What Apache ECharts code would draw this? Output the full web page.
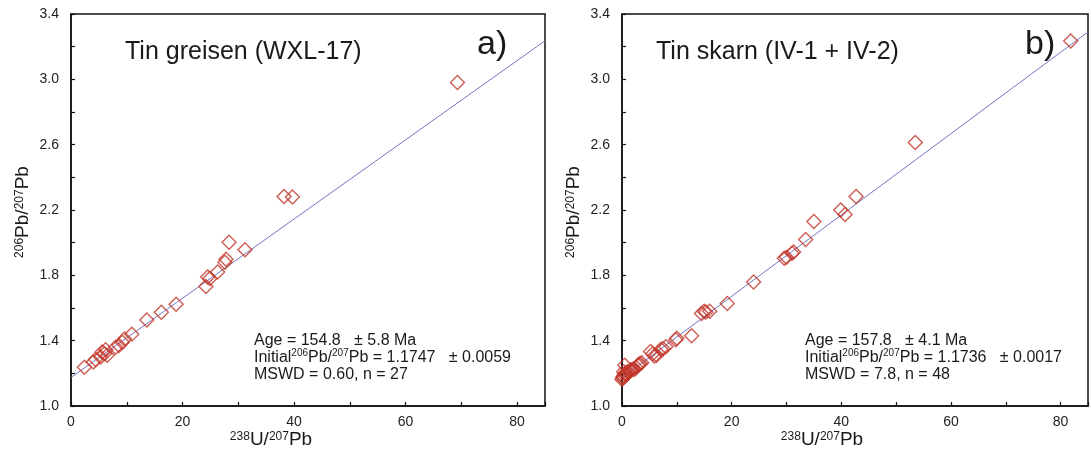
<!DOCTYPE html>
<html>
<head>
<meta charset="utf-8">
<script src="https://cdn.jsdelivr.net/npm/echarts@6/dist/echarts.min.js"></script>
<style>
  html, body { margin: 0; padding: 0; background: #fff; }
  #chart { width: 1091px; height: 451px; }
</style>
</head>
<body>
<div id="chart"></div>
<script>
"use strict";

// a) tin greisen WXL-17, 238U/207Pb vs 206Pb/207Pb
const greisenU = [2.4, 4.0, 4.4, 5.3, 5.6, 6.0, 6.2, 6.5, 8.0, 8.6, 9.2, 9.6, 10.9,
  13.6, 16.2, 18.85, 24.2, 24.5, 24.9, 26.3, 27.6, 27.8, 28.35, 31.2, 38.2, 39.7, 69.3];
const greisenPb = [1.237, 1.27, 1.285, 1.30, 1.33, 1.32, 1.345, 1.31, 1.36, 1.37, 1.39, 1.41, 1.44,
  1.527, 1.574, 1.623, 1.731, 1.79, 1.78, 1.82, 1.88, 1.899, 2.003, 1.956, 2.282, 2.279, 2.981];
const greisenFitU = [0, 85];
const greisenFitPb = [1.1747, 3.236];

// b) tin skarn IV-1 + IV-2
const skarnU = [0.0, 0.1, 0.2, 0.3, 0.3, 0.4, 0.5, 0.6, 0.7, 0.8, 1.0, 1.2, 1.5, 1.7, 2.0, 2.3,
  2.6, 2.9, 3.1, 3.3, 3.6, 5.2, 5.6, 5.9, 6.3, 7.1, 7.5, 8.0, 9.8, 10.0, 12.7,
  14.5, 15.0, 15.3, 16.0, 19.2, 24.0, 29.6, 30.0, 31.0, 31.3, 33.5, 35.0, 39.9, 40.7, 42.7, 53.5, 81.85];
const skarnPb = [1.163, 1.17, 1.18, 1.175, 1.21, 1.19, 1.25, 1.2, 1.2, 1.19, 1.21, 1.205, 1.22, 1.22, 1.225, 1.225,
  1.235, 1.25, 1.255, 1.26, 1.265, 1.333, 1.32, 1.306, 1.31, 1.347, 1.35, 1.363, 1.405, 1.415, 1.43,
  1.567, 1.58, 1.575, 1.58, 1.628, 1.759, 1.904, 1.91, 1.935, 1.943, 2.02, 2.129, 2.2, 2.173, 2.282, 2.613, 3.235];
const skarnFitU = [0, 85];
const skarnFitPb = [1.1736, 3.29];

const panelTitles = ["Tin greisen (WXL-17)", "Tin skarn (IV-1 + IV-2)"];
const panelTags = ["a)", "b)"];
const statLines = [
  ["Age = 154.8   \u00b1 5.8 Ma", "Initial{s|206}Pb/{s|207}Pb = 1.1747   \u00b1 0.0059", "MSWD = 0.60, n = 27"],
  ["Age = 157.8   \u00b1 4.1 Ma", "Initial{s|206}Pb/{s|207}Pb = 1.1736   \u00b1 0.0017", "MSWD = 7.8, n = 48"],
];

const FONT = "'Liberation Sans', Arial, Helvetica, sans-serif";
const INK = "#1a1a1a";
const RED = "#c2362b";
const FIT = "#7373c2";

const pairs = (xs, ys) => xs.map((x, i) => [x, ys[i]]);

const chart = echarts.init(document.getElementById("chart"));

const grids = [
  { left: 71, top: 14, width: 474, height: 392 },
  { left: 622, top: 14, width: 474, height: 392 },
].map((g) => ({ ...g, show: true, borderColor: "#111", borderWidth: 1.5, backgroundColor: "transparent" }));

const axisCommon = {
  axisLine: { show: true, lineStyle: { color: "#111", width: 1.5 } },
  axisTick: { show: true, inside: true, length: 4, lineStyle: { color: "#111", width: 1.2 } },
  splitLine: { show: false },
};

const xAxes = [0, 1].map((i) => ({
  ...axisCommon,
  type: "value", gridIndex: i, min: 0, max: 85, interval: 10,
  axisLabel: {
    color: "#222", fontSize: 14, fontFamily: FONT, margin: 9,
    formatter: (v) => (v % 20 === 0 ? String(v) : ""),
  },
}));

const yAxes = [0, 1].map((i) => ({
  ...axisCommon,
  type: "value", gridIndex: i, min: 1, max: 3.4, interval: 0.2,
  axisLabel: {
    color: "#222", fontSize: 14, fontFamily: FONT, margin: 12,
    formatter: (v) => (Math.round(v * 10) % 4 === 2 ? v.toFixed(1) : ""),
  },
}));

const scatter = (data, i) => ({
  type: "scatter", xAxisIndex: i, yAxisIndex: i, data,
  symbol: "diamond", symbolSize: [14, 14],
  itemStyle: { color: "transparent", borderColor: RED, borderWidth: 1.4 },
  z: 3,
});
const fit = (data, i) => ({
  type: "line", xAxisIndex: i, yAxisIndex: i, data,
  showSymbol: false, silent: true,
  lineStyle: { color: FIT, width: 1 },
  z: 2,
});

const sup = { fontSize: 10, verticalAlign: "top", lineHeight: 10, fontFamily: FONT, fill: INK };
const bigSup = { fontSize: 12, fontFamily: FONT, fill: INK };

function panelText(i) {
  const ox = grids[i].left;
  const els = [
    { type: "text", x: ox + (i === 0 ? 54 : 34), y: 52,
      style: { text: panelTitles[i], font: "25px " + FONT, fill: INK, verticalAlign: "middle" } },
    { type: "text", x: ox + (i === 0 ? 406 : 403), y: 45,
      style: { text: panelTags[i], font: "34px " + FONT, fill: INK, verticalAlign: "middle" } },
    // x axis title
    { type: "text", x: ox + 200, y: 440,
      style: {
        text: "{s|238}U/{s|207}Pb", font: "19px " + FONT, fill: INK,
        align: "center", verticalAlign: "middle",
        rich: { s: { ...bigSup, verticalAlign: "top" } },
      } },
    // y axis title
    { type: "text", x: ox - 48, y: 212, rotation: Math.PI / 2,
      style: {
        text: "{s|206}Pb/{s|207}Pb", font: "19px " + FONT, fill: INK,
        align: "center", verticalAlign: "middle",
        rich: { s: { ...bigSup, verticalAlign: "top" } },
      } },
  ];
  statLines[i].forEach((t, k) => {
    els.push({ type: "text", x: ox + 183, y: 341 + k * 17,
      style: {
        text: t, font: "16px " + FONT, fill: INK, verticalAlign: "middle", lineHeight: 19,
        rich: { s: sup },
      } });
  });
  return els;
}

chart.setOption({
  animation: false,
  backgroundColor: "#fff",
  grid: grids,
  xAxis: xAxes,
  yAxis: yAxes,
  series: [
    fit(pairs(greisenFitU, greisenFitPb), 0),
    scatter(pairs(greisenU, greisenPb), 0),
    fit(pairs(skarnFitU, skarnFitPb), 1),
    scatter(pairs(skarnU, skarnPb), 1),
  ],
  graphic: [...panelText(0), ...panelText(1)],
});
</script>
</body>
</html>
